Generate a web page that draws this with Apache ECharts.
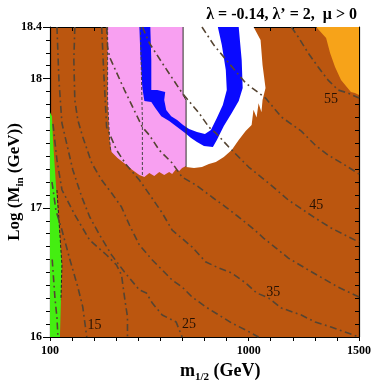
<!DOCTYPE html>
<html><head><meta charset="utf-8">
<script src="https://cdn.jsdelivr.net/npm/echarts@6/dist/echarts.min.js"></script>
<style>html,body{margin:0;padding:0;background:#fff}#c{width:374px;height:390px}</style>
</head><body><div id="c"></div>
<script>
// ---- axis ticks / labels ----
const xTickLabels = [100, 1000, 1500];
const yTickLabels = [16, 17, 18, 18.4];

// ---- regions (m1/2 [GeV], log10 Min) ----
const greenRegion = [[100,17.74],[109,17.71],[113.5,17.525],[122.5,17.293],[131.5,17.06],[140.5,16.867],[149.5,16.673],[154,16.557],[149.5,16.286],[145,16],[100,16]];
const pinkRegion = [[361,18.4],[703,18.4],[703,17.872],[716.5,17.834],[716.5,17.324],[698.5,17.308],[685,17.285],[671.5,17.3],[653.5,17.262],[640,17.277],[617.5,17.254],[595,17.277],[572.5,17.246],[550,17.269],[527.5,17.238],[505,17.254],[473.5,17.293],[446.5,17.331],[406,17.385],[379,17.432],[370,17.525],[361,17.834]];
const whiteRegion = [[703,18.4],[1022.5,18.4],[1054,18.299],[1063,18.105],[1076.5,17.927],[1063,17.834],[1058,17.74],[1045,17.81],[1036,17.7],[1022,17.76],[1013.5,17.641],[986.5,17.594],[955,17.525],[923.5,17.447],[887.5,17.393],[851.5,17.354],[820,17.339],[788.5,17.316],[752.5,17.308],[716.5,17.316],[716.5,17.834],[703,17.872]];
const orangeRegion = [[1306,18.4],[1500,18.4],[1500,17.873],[1481.5,17.889],[1463.5,17.897],[1418.5,17.989],[1391.5,18.09],[1369,18.198],[1351,18.315]];
const blueRegion = [[505,18.4],[509.5,18.183],[518.5,17.927],[527.5,17.827],[559,17.819],[577,17.772],[604,17.71],[640,17.672],[676,17.625],[712,17.579],[739,17.54],[766,17.509],[797.5,17.478],[838,17.471],[856,17.525],[887.5,17.633],[923.5,17.734],[955,17.827],[973,17.927],[968.5,18.144],[955,18.4],
  [860.5,18.4],[878.5,18.26],[896.5,18.067],[901,17.912],[883,17.796],[856,17.695],[829,17.602],[802,17.571],[766,17.587],[730,17.61],[703,17.641],[676,17.68],[649,17.71],[626.5,17.757],[617.5,17.834],[622,17.896],[586,17.912],[559,17.912],[559,18.144],[554.5,18.4]];

// ---- black boundary lines ----
const solidBoundary = [[703,18.4],[703,17.872],[716.5,17.834],[716.5,17.316]];
const dashedPinkEdge = [[361,18.4],[361,17.834],[370,17.525],[374.5,17.447]];
const dashedPinkMid = [[509.5,18.4],[518.5,17.68],[518.5,17.238]];
const dashedGreenEdge = [[131.5,17.138],[154,16.557],[149.5,16.286]];

// ---- dash-dot contours ----
const contour10 = [[110,16.6],[122.5,16.3],[131.5,16.15],[136,16]];
const contour15 = [[109,17.2],[127,16.98],[154,16.828],[190,16.6],[226,16.387],[248.5,16.232],[266.5,16]];
const contour20 = [[113.5,17.65],[131.5,17.37],[154,17.14],[212.5,16.945],[280,16.75],[356.5,16.635],[401.5,16.557],[424,16.48],[437.5,16.31],[451,16.155],[451,16]];
const contour25 = [[131.5,18.4],[140.5,17.989],[154,17.656],[203.5,17.293],[244,17.084],[280,16.929],[325,16.79],[379,16.635],[437.5,16.503],[505,16.364],[536.5,16.341],[563.5,16.263],[608.5,16.17],[653.5,16.132],[671.5,16.116],[698.5,16]];
const contour30 = [[212.5,18.4],[208,18.144],[212.5,17.834],[226,17.68],[248.5,17.548],[289,17.347],[334,17.215],[379,17.115],[424,17.006],[460,16.867],[505,16.712],[563.5,16.596],[608.5,16.519],[653.5,16.441],[698.5,16.387],[743.5,16.31],[806.5,16.232],[865,16.17],[923.5,16.108],[986.5,16.054],[1045,16]];
const contour35 = [[334,18.4],[343,18.067],[356.5,17.625],[401.5,17.447],[446.5,17.331],[505,17.215],[559,17.084],[608.5,16.96],[653.5,16.828],[743.5,16.697],[806.5,16.58],[865,16.534],[923.5,16.495],[986.5,16.418],[1036,16.341],[1090,16.302],[1148.5,16.224],[1238.5,16.17],[1301.5,16.116],[1373.5,16.077],[1450,16.031],[1500,16]];
const contour40 = [[356.5,18.4],[361,18.245],[370,18.167],[437.5,17.912],[518.5,17.625],[550,17.563],[595,17.447],[653.5,17.347],[698.5,17.238],[761.5,17.176],[833.5,17.084],[896.5,17.006],[955,16.929],[1022.5,16.836],[1067.5,16.766],[1180,16.611],[1270,16.519],[1405,16.387],[1500,16.31]];
const contour45 = [[518.5,18.4],[550,18.276],[608.5,18.121],[698.5,17.889],[775,17.734],[820,17.625],[851.5,17.579],[910,17.471],[1000,17.316],[1090,17.192],[1180,17.06],[1247.5,16.983],[1301.5,16.921],[1373.5,16.844],[1436.5,16.789],[1500,16.735]];
const contour50 = [[788.5,18.4],[842.5,18.26],[910,18.121],[986.5,17.966],[1076.5,17.85],[1148.5,17.703],[1238.5,17.594],[1301.5,17.486],[1360,17.409],[1436.5,17.331],[1500,17.262]];
const contour55 = [[1193.5,18.4],[1225,18.322],[1270,18.198],[1315,18.09],[1360,17.989],[1405,17.912],[1450,17.889],[1500,17.85]];

const labelTexts = ['15', '25', '35', '45', '55'];
const labelX = [302, 730, 1112, 1306, 1373];
const labelY = [16.093, 16.10, 16.348, 17.022, 17.842];

// ---- styles ----
const SERIF = "'Liberation Serif','Times New Roman',serif";
const BROWN = '#bb560f';

function poly(pts, color, z) {
  return { type: 'custom', coordinateSystem: 'cartesian2d', xAxisIndex: 0, yAxisIndex: 0,
    silent: true, clip: true, z: z, data: [pts[0]],
    renderItem: function (params, api) {
      return { type: 'polygon', shape: { points: pts.map(p => api.coord(p)) }, style: { fill: color } };
    } };
}
function line(pts, color, width, type, z) {
  return { type: 'line', data: pts, symbol: 'none', silent: true, z: z, xAxisIndex: 0, yAxisIndex: 0,
    lineStyle: { color: color, width: width, type: type }, clip: true };
}
const DASHDOT = [7, 3.5, 1.8, 3.5];
const CCOL = '#554432';

const contours = [contour10, contour15, contour20, contour25, contour30, contour35, contour40, contour45, contour50, contour55];

const series = [
  poly(greenRegion, '#44ee11', 2),
  poly(pinkRegion, '#f8a0f1', 2),
  poly(whiteRegion, '#ffffff', 2),
  poly(orangeRegion, '#f7a319', 2),
  poly(blueRegion, '#0a0aff', 3),
  line(solidBoundary, '#333333', 1, 'solid', 4),
  line(dashedPinkEdge, '#444444', 1, [3, 2], 4),
  line(dashedPinkMid, '#444444', 1, [3, 2], 4),
  line(dashedGreenEdge, '#222222', 1, [3, 2], 4)
];
contours.forEach(c => series.push(line(c, CCOL, 1.6, DASHDOT, 5)));
series.push({
  type: 'scatter', symbolSize: 0, silent: true, z: 6,
  data: labelTexts.map((t, i) => ({ value: [labelX[i], labelY[i]], name: t })),
  label: { show: true, position: 'inside', formatter: p => p.name, color: '#000', fontFamily: SERIF, fontSize: 14 }
});

const axisFont = { fontFamily: SERIF, fontWeight: 'bold', fontSize: 12, color: '#000' };
const lineBlack = { show: true, lineStyle: { color: '#000', width: 1.2 } };

const option = {
  animation: false,
  backgroundColor: '#fff',
  grid: { left: 50, right: 13, top: 27, bottom: 53, show: true, backgroundColor: BROWN, borderWidth: 0 },
  title: { text: 'λ = -0.14, λ’ = 2,  μ > 0', right: 12, top: 2,
    textStyle: { fontFamily: SERIF, fontWeight: 'bold', fontSize: 16, color: '#000' } },
  xAxis: [
    { type: 'value', min: 100, max: 1500, interval: 100, position: 'bottom',
      axisLine: lineBlack, splitLine: { show: false },
      axisTick: { show: true, inside: false, length: 4, lineStyle: { color: '#000' } },
      axisLabel: Object.assign({ margin: 8, formatter: v => xTickLabels.indexOf(Math.round(v)) >= 0 ? String(Math.round(v)) : '' }, axisFont) },
    { type: 'value', min: 100, max: 1500, interval: 100, position: 'top',
      axisLine: lineBlack, splitLine: { show: false },
      axisTick: { show: true, inside: true, length: 4, lineStyle: { color: '#000' } },
      axisLabel: { show: false } }
  ],
  yAxis: [
    { type: 'value', min: 16, max: 18.4, interval: 0.1, position: 'left',
      axisLine: lineBlack, splitLine: { show: false },
      axisTick: { show: true, inside: false, length: 4, lineStyle: { color: '#000' } },
      axisLabel: Object.assign({ margin: 8, formatter: v => {
        for (const t of yTickLabels) if (Math.abs(v - t) < 1e-6) return String(t);
        return '';
      } }, axisFont) },
    { type: 'value', min: 16, max: 18.4, interval: 1, position: 'left',
      axisLine: { show: false }, splitLine: { show: false },
      axisTick: { show: true, inside: false, length: 7, lineStyle: { color: '#000' } },
      axisLabel: { show: false } },
    { type: 'value', min: 16, max: 18.4, interval: 0.1, position: 'right',
      axisLine: lineBlack, splitLine: { show: false },
      axisTick: { show: true, inside: true, length: 4, lineStyle: { color: '#000' } },
      axisLabel: { show: false } }
  ],
  graphic: [
    { type: 'text', left: 180, top: 362,
      style: { text: '{b|m}{s|1/2}{b| (GeV)}', rich: {
        b: { fontFamily: SERIF, fontWeight: 'bold', fontSize: 18, lineHeight: 24, fill: '#000' },
        s: { fontFamily: SERIF, fontWeight: 'bold', fontSize: 11, lineHeight: 12, verticalAlign: 'bottom', fill: '#000' } } } },
    { type: 'text', x: 15, y: 182, rotation: Math.PI / 2,
      style: { text: '{b|Log (M}{s|in}{b| (GeV))}', align: 'center', verticalAlign: 'middle', rich: {
        b: { fontFamily: SERIF, fontWeight: 'bold', fontSize: 17, lineHeight: 22, fill: '#000' },
        s: { fontFamily: SERIF, fontWeight: 'bold', fontSize: 11, lineHeight: 11, verticalAlign: 'bottom', fill: '#000' } } } }
  ],
  series: series
};
const chart = echarts.init(document.getElementById('c'));
chart.setOption(option);
</script></body></html>
